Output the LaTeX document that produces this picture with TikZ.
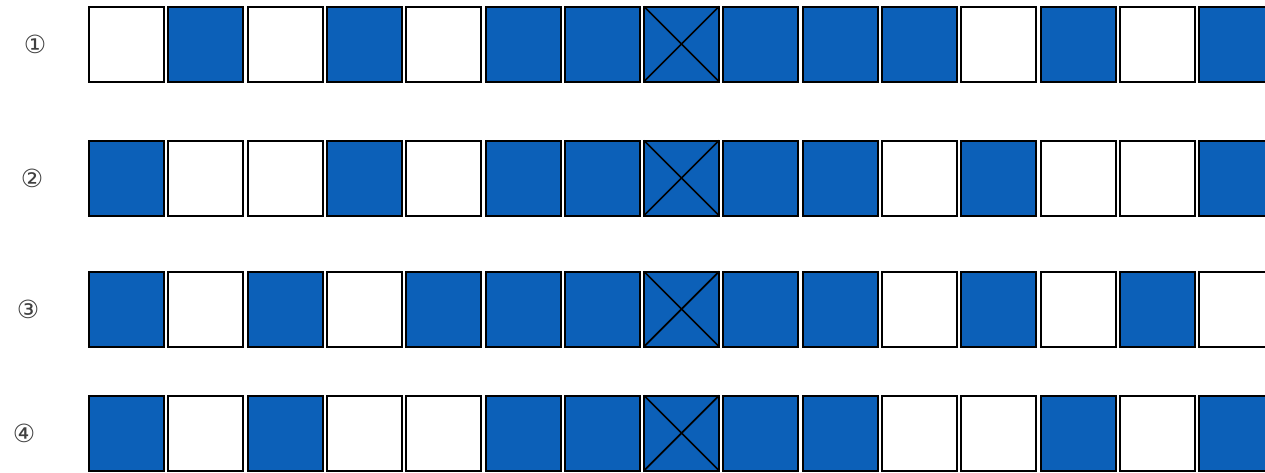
\documentclass[tikz,border=0pt]{standalone}
\usepackage{fontspec}
\newfontfamily\symfont{DejaVu Sans}
\definecolor{cellblue}{RGB}{12,96,184}
\tikzset{
  cellw/.style={draw=black, line width=2pt, fill=white, minimum width=75pt, minimum height=75pt, inner sep=0pt, outer sep=0pt},
  cellb/.style={cellw, fill=cellblue},
  rowlabel/.style={font=\symfont\fontsize{25pt}{25pt}\selectfont, text=black!75, inner sep=0pt},
}
\begin{document}
\begin{tikzpicture}[x=1pt,y=-1pt]
\useasboundingbox (0,0) rectangle (1265,472);
\foreach \r/\yc/\lx/\pat in {1/44/35/{W,B,W,B,W,B,B,X,B,B,B,W,B,W,B},
                             2/178/32/{B,W,W,B,W,B,B,X,B,B,W,B,W,W,B},
                             3/309/28/{B,W,B,W,B,B,B,X,B,B,W,B,W,B,W},
                             4/433/24/{B,W,B,W,W,B,B,X,B,B,W,W,B,W,B}} {
  \node[rowlabel] (lab\r) at (\lx,\yc) {\ifcase\r\or ①\or ②\or ③\or ④\fi};
  \foreach \c [count=\i from 0] in \pat {
    \pgfmathsetmacro{\xc}{126.5+\i*79.3}
    \if\c W
      \node[cellw] (c\r-\i) at (\xc,\yc) {};
    \else
      \node[cellb] (c\r-\i) at (\xc,\yc) {};
    \fi
    \if\c X
      \draw[line width=1.6pt] (c\r-\i.north west) -- (c\r-\i.south east);
      \draw[line width=1.6pt] (c\r-\i.north east) -- (c\r-\i.south west);
    \fi
  }
}
\end{tikzpicture}
\end{document}
